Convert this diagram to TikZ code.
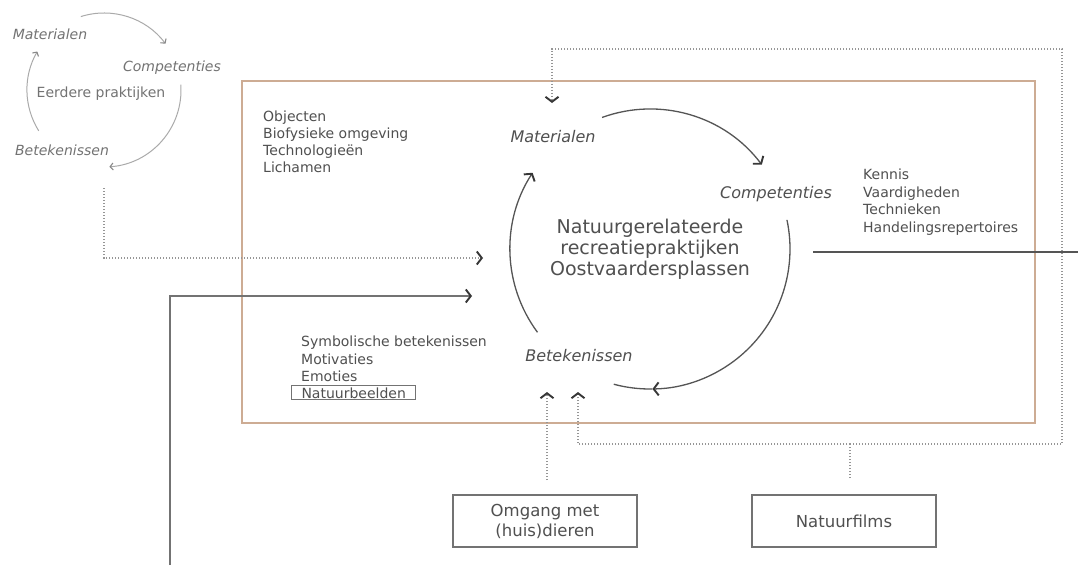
\documentclass[tikz,border=0pt]{standalone}
\usepackage{fontspec}
\setmainfont{DejaVu Sans}
\usetikzlibrary{arrows.meta,calc}
\definecolor{txt}{RGB}{80,80,80}
\definecolor{ltxt}{RGB}{115,115,115}
\definecolor{larc}{RGB}{170,170,170}
\definecolor{arcc}{RGB}{85,85,85}
\definecolor{tipc}{RGB}{55,55,55}
\definecolor{boxc}{RGB}{205,172,148}
\definecolor{dotc}{RGB}{150,150,150}
\definecolor{linec}{RGB}{115,115,115}
\begin{document}
\begin{tikzpicture}[x=1pt,y=-1pt,
  lst/.style={font=\fontsize{14}{17}\selectfont, text=txt, anchor=base west, inner sep=0pt},
  lbl/.style={font=\fontsize{16}{19}\selectfont\itshape, text=txt, anchor=base, inner sep=0pt},
  slbl/.style={font=\fontsize{14}{17}\selectfont\itshape, text=ltxt, anchor=base, inner sep=0pt},
  stxt/.style={font=\fontsize{14}{17}\selectfont, text=ltxt, anchor=base, inner sep=0pt},
  bigt/.style={font=\fontsize{19}{21}\selectfont, text=txt, anchor=base, inner sep=0pt},
  mainarc/.style={draw=arcc, line width=1.3pt},
  smallarc/.style={draw=larc, line width=1pt},
  dotl/.style={draw=dotc, line width=1.2pt, dash pattern=on 1.3pt off 1.7pt},
  sol/.style={draw=linec, line width=1.6pt},
  tipa/.style={-{Straight Barb[length=5pt,width=13pt,line width=1.9pt,color=tipc]}},
  stip/.style={-{Straight Barb[length=3pt,width=7pt,line width=1.1pt,color=larc!80!black]}},
  srcbox/.style={draw=linec, line width=1.4pt, minimum width=184pt, minimum height=52pt,
    align=center, inner sep=0pt, font=\fontsize{16.5}{20}\selectfont, text=txt}
]
\useasboundingbox (0,0) rectangle (1078,565);
\fill[white] (0,0) rectangle (1078,565);

% main frame
\node[draw=boxc, line width=2.5pt, minimum width=793pt, minimum height=342pt, inner sep=0pt] (frame) at (638.5,252) {};

% ---------- small circle (earlier practices) ----------
\coordinate (SC) at (104,90);
\draw[smallarc,stip] ($(SC)+(-107.5:77)$) arc[start angle=-107.5, end angle=-37, radius=77];
\draw[smallarc,stip] ($(SC)+(-4:77)$) arc[start angle=-4, end angle=86, radius=77];
\draw[smallarc,stip] ($(SC)+(-212:77)$) arc[start angle=-212, end angle=-150, radius=77];
\node[slbl] (smat) at (50,39) {Materialen};
\node[slbl] (scomp) at (172,71) {Competenties};
\node[stxt] (sprak) at (101,97) {Eerdere praktijken};
\node[slbl] (sbet) at (62,155) {Betekenissen};

% ---------- main circle ----------
\coordinate (C) at (650,249);
\draw[mainarc,tipa] ($(C)+(-110:140)$) arc[start angle=-110, end angle=-37, radius=140];
\draw[mainarc,tipa] ($(C)+(-12:140)$) arc[start angle=-12, end angle=89, radius=140];
\draw[mainarc] ($(C)+(89:140)$) arc[start angle=89, end angle=105, radius=140];
\draw[mainarc,tipa] ($(C)+(-216.5:140)$) arc[start angle=-216.5, end angle=-147, radius=140];

\node[lbl] (mat) at (553,142) {Materialen};
\node[lbl] (comp) at (776,198) {Competenties};
\node[lbl] (bet) at (579,361) {Betekenissen};
\node[bigt] (t1) at (650,233) {Natuurgerelateerde};
\node[bigt] (t2) at (650,254) {recreatiepraktijken};
\node[bigt] (t3) at (650,275) {Oostvaardersplassen};

% ---------- lists ----------
\node[lst] (l1) at (263,121) {Objecten};
\node[lst] (l2) at (263,138) {Biofysieke omgeving};
\node[lst] (l3) at (263,155) {Technologieën};
\node[lst] (l4) at (263,172) {Lichamen};

\node[lst] (r1) at (863,179) {Kennis};
\node[lst] (r2) at (863,197) {Vaardigheden};
\node[lst] (r3) at (863,214) {Technieken};
\node[lst] (r4) at (863,232) {Handelingsrepertoires};

\node[lst] (b1) at (301,346) {Symbolische betekenissen};
\node[lst] (b2) at (301,364) {Motivaties};
\node[lst] (b3) at (301,381) {Emoties};
\node[lst, draw=linec, line width=1pt, inner xsep=10pt, inner ysep=1.5pt] (b4) at (291,398) {Natuurbeelden};

% ---------- source boxes ----------
\node[srcbox] (omg) at (545,521) {Omgang met\\(huis)dieren};
\node[srcbox] (nf) at (844,521) {Natuurfilms};

% ---------- connectors ----------
\coordinate (sd0) at (104,188);
\coordinate (sd1) at (483,258);
\draw[dotl,tipa] (sd0) |- (sd1);

\coordinate (s0) at (170,565);
\coordinate (s1) at (472,296);
\draw[sol,tipa] (s0) |- (s1);

\coordinate (rr0) at (813,252);
\coordinate (rr1) at (1078,252);
\draw[draw=arcc, line width=1.3pt] (rr0) -- (rr1);

\coordinate (o0) at (547,480);
\coordinate (o1) at (547,392);
\draw[dotl,tipa] (o0) -- (o1);

\coordinate (n0) at (850,478);
\coordinate (jn) at (850,444);
\coordinate (nb) at (578,392);
\coordinate (nm) at (552,103);
\draw[dotl] (n0) -- (jn);
\draw[dotl,tipa] (jn) -| (nb);
\draw[dotl,tipa] (jn) -- (1062,444) -- (1062,49) -| (nm);
\end{tikzpicture}
\end{document}
